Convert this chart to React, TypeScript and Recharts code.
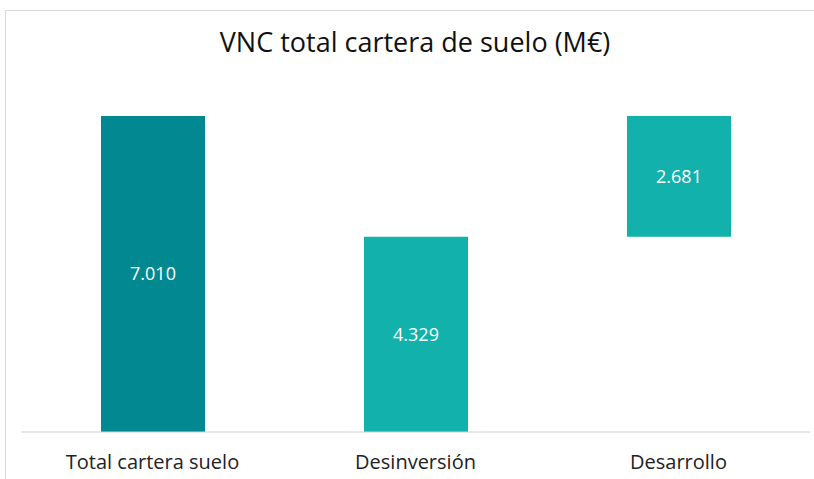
import { BarChart, Bar, XAxis, YAxis, Cell, LabelList } from 'recharts';

const categories = ['Total cartera suelo', 'Desinversión', 'Desarrollo'];
const baseValues = [0, 0, 4329];
const barValues = [7010, 4329, 2681];
const barColors = ['#018891', '#13b1ab', '#13b1ab'];

const data = categories.map((name, i) => ({
  name,
  base: baseValues[i],
  value: barValues[i],
}));

const fmt = (v: number) => String(v).replace(/\B(?=(\d{3})+(?!\d))/g, '.');

const FONT = '"Open Sans", "Noto Sans", sans-serif';

export default function App() {
  return (
    <div style={{ position: 'absolute', left: 0, top: 0, width: 814, height: 479, background: '#fff', overflow: 'hidden', fontFamily: FONT }}>
      <div
        style={{
          position: 'absolute',
          left: 5,
          top: 10,
          width: 830,
          height: 500,
          border: '1px solid #d9d9d9',
          boxSizing: 'border-box',
        }}
      />
      <div
        style={{
          position: 'absolute',
          left: 0,
          top: 24,
          width: 830,
          textAlign: 'center',
          fontSize: 27,
          lineHeight: '36px',
          color: '#111',
        }}
      >
        VNC total cartera de suelo (M€)
      </div>
      <div style={{ position: 'absolute', left: 0, top: 0 }}>
        <BarChart
          width={814}
          height={479}
          data={data}
          margin={{ top: 116, right: 4, bottom: 0, left: 21 }}
          barSize={104}
        >
          <YAxis hide domain={[0, 7010]} />
          <XAxis
            dataKey="name"
            height={47}
            tickLine={false}
            axisLine={{ stroke: '#d0d0d0' }}
            tickMargin={17}
            tick={{ fill: '#222', fontSize: 20, fontFamily: FONT }}
            interval={0}
          />
          <Bar dataKey="base" stackId="w" fill="transparent" isAnimationActive={false} />
          <Bar dataKey="value" stackId="w" isAnimationActive={false}>
            {data.map((d, i) => (
              <Cell key={d.name} fill={barColors[i]} />
            ))}
            <LabelList
              dataKey="value"
              position="center"
              formatter={(v: any) => fmt(Number(v))}
              fill="#fff"
              fontSize={18}
              fontFamily={FONT}
            />
          </Bar>
        </BarChart>
      </div>
    </div>
  );
}
